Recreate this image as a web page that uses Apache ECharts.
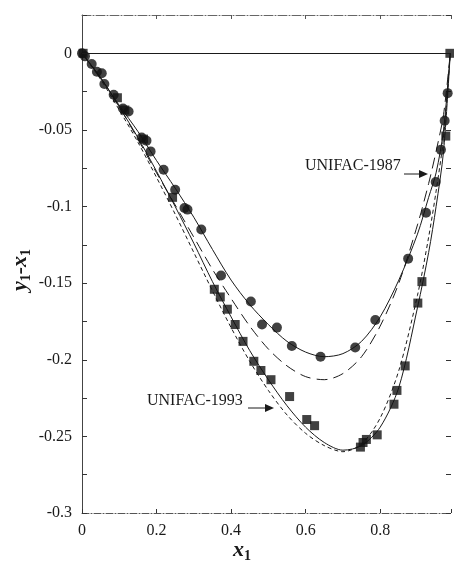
<!DOCTYPE html>
<html>
<head>
<meta charset="utf-8">
<script src="https://cdn.jsdelivr.net/npm/echarts@6/dist/echarts.min.js"></script>
<style>
  html, body { margin: 0; padding: 0; background: #fff; }
  #chart { width: 454px; height: 564px; }
</style>
</head>
<body>
<div id="chart"></div>
<script>
// fitted curves
const curveX = [0, 0.05, 0.1, 0.15, 0.2, 0.25, 0.3, 0.35, 0.4, 0.45, 0.5, 0.55, 0.6, 0.65, 0.7, 0.75, 0.8, 0.85, 0.9, 0.93, 0.95, 0.97, 0.988]
const circleFit = [0, -0.016, -0.034, -0.051, -0.070, -0.088, -0.107, -0.128, -0.148, -0.164, -0.177, -0.188, -0.195, -0.198, -0.196, -0.188, -0.172, -0.148, -0.118, -0.094, -0.078, -0.050, 0]
const squareFit = [0, -0.016, -0.035, -0.055, -0.077, -0.100, -0.124, -0.149, -0.172, -0.194, -0.213, -0.230, -0.244, -0.254, -0.259, -0.256, -0.244, -0.218, -0.166, -0.130, -0.100, -0.064, 0]
const unifac1987 = [0, -0.016, -0.035, -0.056, -0.078, -0.099, -0.120, -0.141, -0.160, -0.178, -0.193, -0.204, -0.211, -0.213, -0.209, -0.198, -0.178, -0.150, -0.112, -0.085, -0.064, -0.040, 0]
const unifac1993 = [0, -0.017, -0.037, -0.058, -0.081, -0.105, -0.130, -0.155, -0.179, -0.201, -0.220, -0.236, -0.248, -0.256, -0.260, -0.255, -0.238, -0.207, -0.158, -0.120, -0.090, -0.055, 0]

// experimental points
const circleX = [0, 0.008, 0.026, 0.04, 0.053, 0.06, 0.085, 0.11, 0.125, 0.16, 0.173, 0.184, 0.219, 0.25, 0.275, 0.283, 0.32, 0.373, 0.453, 0.483, 0.523, 0.563, 0.64, 0.733, 0.787, 0.875, 0.923, 0.949, 0.963, 0.973, 0.981]
const circleY = [0, -0.002, -0.007, -0.012, -0.013, -0.02, -0.027, -0.036, -0.038, -0.055, -0.057, -0.064, -0.076, -0.089, -0.101, -0.102, -0.115, -0.145, -0.162, -0.177, -0.179, -0.191, -0.198, -0.192, -0.174, -0.134, -0.104, -0.084, -0.063, -0.044, -0.026]
const squareX = [0.003, 0.095, 0.115, 0.165, 0.243, 0.355, 0.371, 0.39, 0.411, 0.432, 0.461, 0.48, 0.507, 0.557, 0.603, 0.624, 0.747, 0.754, 0.763, 0.792, 0.837, 0.845, 0.867, 0.901, 0.912, 0.976, 0.987]
const squareY = [0, -0.029, -0.037, -0.056, -0.094, -0.154, -0.159, -0.167, -0.177, -0.188, -0.201, -0.207, -0.213, -0.224, -0.239, -0.243, -0.257, -0.254, -0.252, -0.249, -0.229, -0.22, -0.204, -0.163, -0.149, -0.054, 0]

const zip = (xs, ys) => xs.map((x, i) => [x, ys[i]])

const font = 'Liberation Serif'
const ink = '#1a1a1a'

const myChart = echarts.init(document.getElementById('chart'))

const fitLine = (name, ys, type) => ({
  name: name,
  type: 'line',
  data: zip(curveX, ys),
  smooth: 0.3,
  symbol: 'none',
  lineStyle: { color: ink, width: 1, type: type },
  z: 2
})

const subTitle = {
  i: { fontFamily: font, fontSize: 22, fontStyle: 'italic', fontWeight: 'bold', fill: ink, lineHeight: 26, verticalAlign: 'middle' },
  s: { fontFamily: font, fontSize: 14, fontWeight: 'bold', fill: ink, lineHeight: 26, verticalAlign: 'bottom', padding: [8, 0, 0, 0] }
}

// the right edge of the plot is cut off in the picture, so stop at 0.99
const option = {
  animation: false,
  backgroundColor: '#fff',
  grid: { left: 82, top: 15, right: 0, bottom: 51 },
  xAxis: [
    {
      type: 'value', min: 0, max: 0.99, interval: 0.2,
      axisLine: { onZero: false, lineStyle: { color: '#555', width: 1, type: [7, 2, 1, 2] } },
      axisTick: { inside: true, length: 4, lineStyle: { color: '#333' } },
      axisLabel: {
        fontFamily: font, fontSize: 16, color: ink, margin: 10,
        formatter: v => (v > 0.9 ? '' : String(+v.toFixed(1)))
      },
      splitLine: { show: false }
    },
    {
      type: 'value', position: 'top', min: 0, max: 0.99, interval: 0.2,
      axisLine: { onZero: false, lineStyle: { color: '#666', width: 1, type: [9, 2, 1, 2] } },
      axisTick: { inside: true, length: 4, lineStyle: { color: '#555' } },
      axisLabel: { show: false },
      splitLine: { show: false }
    }
  ],
  yAxis: [
    {
      type: 'value', min: -0.3, max: 0.025, interval: 0.025,
      axisLine: { show: true, onZero: false, lineStyle: { color: '#444', width: 1 } },
      axisTick: { inside: true, length: 5, lineStyle: { color: '#333' } },
      axisLabel: {
        fontFamily: font, fontSize: 16, color: ink, margin: 10,
        formatter: v => {
          const m = Math.round(v * 1000)
          if (m > 0 || m % 50 !== 0) return ''
          return m === 0 ? '0' : String(m / 1000)
        }
      },
      splitLine: { show: false }
    },
    {
      type: 'value', position: 'right', min: -0.3, max: 0.025, interval: 0.025,
      axisLine: { show: false, onZero: false },
      axisTick: { show: true, inside: true, length: 5, lineStyle: { color: '#333' } },
      axisLabel: { show: false },
      splitLine: { show: false }
    }
  ],
  series: [
    Object.assign(fitLine('circle fit', circleFit, 'solid'), {
      markLine: {
        silent: true, symbol: 'none', label: { show: false },
        lineStyle: { color: ink, width: 1.2, type: 'solid' },
        data: [{ yAxis: 0 }]
      }
    }),
    fitLine('square fit', squareFit, 'solid'),
    fitLine('UNIFAC-1987', unifac1987, [11, 6]),
    fitLine('UNIFAC-1993', unifac1993, [4, 3]),
    {
      name: 'circles', type: 'scatter', data: zip(circleX, circleY),
      symbol: 'circle', symbolSize: 10,
      itemStyle: { color: '#111' }, z: 3
    },
    {
      name: 'squares', type: 'scatter', data: zip(squareX, squareY),
      symbol: 'rect', symbolSize: 9,
      itemStyle: { color: '#111' }, z: 3
    }
  ],
  graphic: [
    {
      type: 'text', left: 305, top: 158,
      style: { text: 'UNIFAC-1987', font: '16px "Liberation Serif"', fill: ink }
    },
    { type: 'line', shape: { x1: 404, y1: 174, x2: 421, y2: 174 }, style: { stroke: ink, lineWidth: 1 } },
    { type: 'polygon', shape: { points: [[428, 174], [419, 170], [419, 178]] }, style: { fill: ink } },
    {
      type: 'text', left: 147, top: 393,
      style: { text: 'UNIFAC-1993', font: '16px "Liberation Serif"', fill: ink }
    },
    { type: 'line', shape: { x1: 248, y1: 408, x2: 266, y2: 408 }, style: { stroke: ink, lineWidth: 1 } },
    { type: 'polygon', shape: { points: [[274, 408], [265, 404], [265, 412]] }, style: { fill: ink } },
    {
      type: 'text', x: 20, y: 270, rotation: Math.PI / 2,
      style: { text: '{i|y}{s|1}{i|-x}{s|1}', align: 'center', verticalAlign: 'middle', rich: subTitle }
    },
    {
      type: 'text', x: 242, y: 550,
      style: { text: '{i|x}{s|1}', align: 'center', verticalAlign: 'middle', rich: subTitle }
    }
  ]
}

myChart.setOption(option)
window.onresize = () => { myChart.resize() }
</script>
</body>
</html>
